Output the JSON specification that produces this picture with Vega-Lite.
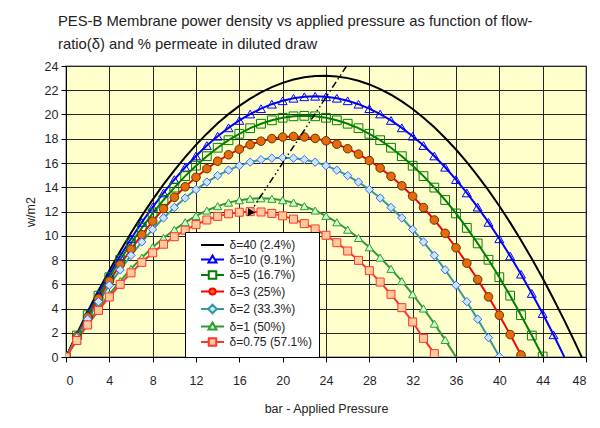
{
  "$schema": "https://vega.github.io/schema/vega-lite/v6.json",
  "autosize": {"type": "none"},
  "width": 520,
  "height": 291,
  "padding": {"left": 66, "top": 66, "right": 14, "bottom": 71},
  "background": "white",
  "title": {
    "text": ["PES-B Membrane power density vs applied pressure as function of flow-", "ratio(δ) and % permeate in diluted draw"],
    "anchor": "start",
    "frame": "group",
    "dx": -8,
    "offset": 8,
    "fontSize": 14.8,
    "lineHeight": 23,
    "fontWeight": "normal",
    "font": "Liberation Sans",
    "color": "#222"
  },
  "datasets": {
    "curves": [
      {"s": "δ=40 (2.4%)", "p": 0, "w": 0}, {"s": "δ=40 (2.4%)", "p": 1, "w": 1.91}, {"s": "δ=40 (2.4%)", "p": 2, "w": 3.74}, {"s": "δ=40 (2.4%)", "p": 3, "w": 5.48}, {"s": "δ=40 (2.4%)", "p": 4, "w": 7.14}, {"s": "δ=40 (2.4%)", "p": 5, "w": 8.72}, {"s": "δ=40 (2.4%)", "p": 6, "w": 10.22}, {"s": "δ=40 (2.4%)", "p": 7, "w": 11.64}, {"s": "δ=40 (2.4%)", "p": 8, "w": 12.98}, {"s": "δ=40 (2.4%)", "p": 9, "w": 14.23}, {"s": "δ=40 (2.4%)", "p": 10, "w": 15.4}, {"s": "δ=40 (2.4%)", "p": 11, "w": 16.49}, {"s": "δ=40 (2.4%)", "p": 12, "w": 17.5}, {"s": "δ=40 (2.4%)", "p": 13, "w": 18.42}, {"s": "δ=40 (2.4%)", "p": 14, "w": 19.27}, {"s": "δ=40 (2.4%)", "p": 15, "w": 20.03}, {"s": "δ=40 (2.4%)", "p": 16, "w": 20.71}, {"s": "δ=40 (2.4%)", "p": 17, "w": 21.31}, {"s": "δ=40 (2.4%)", "p": 18, "w": 21.82}, {"s": "δ=40 (2.4%)", "p": 19, "w": 22.26}, {"s": "δ=40 (2.4%)", "p": 20, "w": 22.61}, {"s": "δ=40 (2.4%)", "p": 21, "w": 22.88}, {"s": "δ=40 (2.4%)", "p": 22, "w": 23.07}, {"s": "δ=40 (2.4%)", "p": 23, "w": 23.18}, {"s": "δ=40 (2.4%)", "p": 24, "w": 23.2}, {"s": "δ=40 (2.4%)", "p": 25, "w": 23.14}, {"s": "δ=40 (2.4%)", "p": 26, "w": 23.0}, {"s": "δ=40 (2.4%)", "p": 27, "w": 22.78}, {"s": "δ=40 (2.4%)", "p": 28, "w": 22.48}, {"s": "δ=40 (2.4%)", "p": 29, "w": 22.09}, {"s": "δ=40 (2.4%)", "p": 30, "w": 21.63}, {"s": "δ=40 (2.4%)", "p": 31, "w": 21.08}, {"s": "δ=40 (2.4%)", "p": 32, "w": 20.45}, {"s": "δ=40 (2.4%)", "p": 33, "w": 19.74}, {"s": "δ=40 (2.4%)", "p": 34, "w": 18.94}, {"s": "δ=40 (2.4%)", "p": 35, "w": 18.06}, {"s": "δ=40 (2.4%)", "p": 36, "w": 17.11}, {"s": "δ=40 (2.4%)", "p": 37, "w": 16.07}, {"s": "δ=40 (2.4%)", "p": 38, "w": 14.94}, {"s": "δ=40 (2.4%)", "p": 39, "w": 13.74}, {"s": "δ=40 (2.4%)", "p": 40, "w": 12.45}, {"s": "δ=40 (2.4%)", "p": 41, "w": 11.08}, {"s": "δ=40 (2.4%)", "p": 42, "w": 9.63}, {"s": "δ=40 (2.4%)", "p": 43, "w": 8.1}, {"s": "δ=40 (2.4%)", "p": 44, "w": 6.49}, {"s": "δ=40 (2.4%)", "p": 45, "w": 4.79}, {"s": "δ=40 (2.4%)", "p": 46, "w": 3.02}, {"s": "δ=40 (2.4%)", "p": 47, "w": 1.16}, {"s": "δ=40 (2.4%)", "p": 47.6, "w": 0},

      {"s": "δ=10 (9.1%)", "p": 0, "w": 0}, {"s": "δ=10 (9.1%)", "p": 1, "w": 1.83}, {"s": "δ=10 (9.1%)", "p": 2, "w": 3.58}, {"s": "δ=10 (9.1%)", "p": 3, "w": 5.24}, {"s": "δ=10 (9.1%)", "p": 4, "w": 6.83}, {"s": "δ=10 (9.1%)", "p": 5, "w": 8.33}, {"s": "δ=10 (9.1%)", "p": 6, "w": 9.75}, {"s": "δ=10 (9.1%)", "p": 7, "w": 11.1}, {"s": "δ=10 (9.1%)", "p": 8, "w": 12.36}, {"s": "δ=10 (9.1%)", "p": 9, "w": 13.53}, {"s": "δ=10 (9.1%)", "p": 10, "w": 14.63}, {"s": "δ=10 (9.1%)", "p": 11, "w": 15.65}, {"s": "δ=10 (9.1%)", "p": 12, "w": 16.58}, {"s": "δ=10 (9.1%)", "p": 13, "w": 17.44}, {"s": "δ=10 (9.1%)", "p": 14, "w": 18.21}, {"s": "δ=10 (9.1%)", "p": 15, "w": 18.9}, {"s": "δ=10 (9.1%)", "p": 16, "w": 19.51}, {"s": "δ=10 (9.1%)", "p": 17, "w": 20.04}, {"s": "δ=10 (9.1%)", "p": 18, "w": 20.48}, {"s": "δ=10 (9.1%)", "p": 19, "w": 20.85}, {"s": "δ=10 (9.1%)", "p": 20, "w": 21.13}, {"s": "δ=10 (9.1%)", "p": 21, "w": 21.34}, {"s": "δ=10 (9.1%)", "p": 22, "w": 21.46}, {"s": "δ=10 (9.1%)", "p": 23, "w": 21.5}, {"s": "δ=10 (9.1%)", "p": 24, "w": 21.46}, {"s": "δ=10 (9.1%)", "p": 25, "w": 21.34}, {"s": "δ=10 (9.1%)", "p": 26, "w": 21.13}, {"s": "δ=10 (9.1%)", "p": 27, "w": 20.85}, {"s": "δ=10 (9.1%)", "p": 28, "w": 20.48}, {"s": "δ=10 (9.1%)", "p": 29, "w": 20.04}, {"s": "δ=10 (9.1%)", "p": 30, "w": 19.51}, {"s": "δ=10 (9.1%)", "p": 31, "w": 18.9}, {"s": "δ=10 (9.1%)", "p": 32, "w": 18.21}, {"s": "δ=10 (9.1%)", "p": 33, "w": 17.44}, {"s": "δ=10 (9.1%)", "p": 34, "w": 16.58}, {"s": "δ=10 (9.1%)", "p": 35, "w": 15.65}, {"s": "δ=10 (9.1%)", "p": 36, "w": 14.63}, {"s": "δ=10 (9.1%)", "p": 37, "w": 13.53}, {"s": "δ=10 (9.1%)", "p": 38, "w": 12.36}, {"s": "δ=10 (9.1%)", "p": 39, "w": 11.1}, {"s": "δ=10 (9.1%)", "p": 40, "w": 9.75}, {"s": "δ=10 (9.1%)", "p": 41, "w": 8.33}, {"s": "δ=10 (9.1%)", "p": 42, "w": 6.83}, {"s": "δ=10 (9.1%)", "p": 43, "w": 5.24}, {"s": "δ=10 (9.1%)", "p": 44, "w": 3.58}, {"s": "δ=10 (9.1%)", "p": 45, "w": 1.83}, {"s": "δ=10 (9.1%)", "p": 46, "w": 0},

      {"s": "δ=5 (16.7%)", "p": 0, "w": 0}, {"s": "δ=5 (16.7%)", "p": 1, "w": 1.77}, {"s": "δ=5 (16.7%)", "p": 2, "w": 3.45}, {"s": "δ=5 (16.7%)", "p": 3, "w": 5.06}, {"s": "δ=5 (16.7%)", "p": 4, "w": 6.58}, {"s": "δ=5 (16.7%)", "p": 5, "w": 8.02}, {"s": "δ=5 (16.7%)", "p": 6, "w": 9.37}, {"s": "δ=5 (16.7%)", "p": 7, "w": 10.65}, {"s": "δ=5 (16.7%)", "p": 8, "w": 11.84}, {"s": "δ=5 (16.7%)", "p": 9, "w": 12.95}, {"s": "δ=5 (16.7%)", "p": 10, "w": 13.97}, {"s": "δ=5 (16.7%)", "p": 11, "w": 14.92}, {"s": "δ=5 (16.7%)", "p": 12, "w": 15.78}, {"s": "δ=5 (16.7%)", "p": 13, "w": 16.56}, {"s": "δ=5 (16.7%)", "p": 14, "w": 17.26}, {"s": "δ=5 (16.7%)", "p": 15, "w": 17.88}, {"s": "δ=5 (16.7%)", "p": 16, "w": 18.41}, {"s": "δ=5 (16.7%)", "p": 17, "w": 18.87}, {"s": "δ=5 (16.7%)", "p": 18, "w": 19.24}, {"s": "δ=5 (16.7%)", "p": 19, "w": 19.52}, {"s": "δ=5 (16.7%)", "p": 20, "w": 19.73}, {"s": "δ=5 (16.7%)", "p": 21, "w": 19.85}, {"s": "δ=5 (16.7%)", "p": 22, "w": 19.89}, {"s": "δ=5 (16.7%)", "p": 23, "w": 19.85}, {"s": "δ=5 (16.7%)", "p": 24, "w": 19.73}, {"s": "δ=5 (16.7%)", "p": 25, "w": 19.52}, {"s": "δ=5 (16.7%)", "p": 26, "w": 19.24}, {"s": "δ=5 (16.7%)", "p": 27, "w": 18.87}, {"s": "δ=5 (16.7%)", "p": 28, "w": 18.41}, {"s": "δ=5 (16.7%)", "p": 29, "w": 17.88}, {"s": "δ=5 (16.7%)", "p": 30, "w": 17.26}, {"s": "δ=5 (16.7%)", "p": 31, "w": 16.56}, {"s": "δ=5 (16.7%)", "p": 32, "w": 15.78}, {"s": "δ=5 (16.7%)", "p": 33, "w": 14.92}, {"s": "δ=5 (16.7%)", "p": 34, "w": 13.97}, {"s": "δ=5 (16.7%)", "p": 35, "w": 12.95}, {"s": "δ=5 (16.7%)", "p": 36, "w": 11.84}, {"s": "δ=5 (16.7%)", "p": 37, "w": 10.65}, {"s": "δ=5 (16.7%)", "p": 38, "w": 9.37}, {"s": "δ=5 (16.7%)", "p": 39, "w": 8.02}, {"s": "δ=5 (16.7%)", "p": 40, "w": 6.58}, {"s": "δ=5 (16.7%)", "p": 41, "w": 5.06}, {"s": "δ=5 (16.7%)", "p": 42, "w": 3.45}, {"s": "δ=5 (16.7%)", "p": 43, "w": 1.77}, {"s": "δ=5 (16.7%)", "p": 44, "w": 0.04},

      {"s": "δ=3 (25%)", "p": 0, "w": 0}, {"s": "δ=3 (25%)", "p": 1, "w": 1.69}, {"s": "δ=3 (25%)", "p": 2, "w": 3.29}, {"s": "δ=3 (25%)", "p": 3, "w": 4.81}, {"s": "δ=3 (25%)", "p": 4, "w": 6.26}, {"s": "δ=3 (25%)", "p": 5, "w": 7.61}, {"s": "δ=3 (25%)", "p": 6, "w": 8.89}, {"s": "δ=3 (25%)", "p": 7, "w": 10.08}, {"s": "δ=3 (25%)", "p": 8, "w": 11.2}, {"s": "δ=3 (25%)", "p": 9, "w": 12.23}, {"s": "δ=3 (25%)", "p": 10, "w": 13.17}, {"s": "δ=3 (25%)", "p": 11, "w": 14.04}, {"s": "δ=3 (25%)", "p": 12, "w": 14.82}, {"s": "δ=3 (25%)", "p": 13, "w": 15.53}, {"s": "δ=3 (25%)", "p": 14, "w": 16.15}, {"s": "δ=3 (25%)", "p": 15, "w": 16.68}, {"s": "δ=3 (25%)", "p": 16, "w": 17.14}, {"s": "δ=3 (25%)", "p": 17, "w": 17.51}, {"s": "δ=3 (25%)", "p": 18, "w": 17.8}, {"s": "δ=3 (25%)", "p": 19, "w": 18.01}, {"s": "δ=3 (25%)", "p": 20, "w": 18.14}, {"s": "δ=3 (25%)", "p": 21, "w": 18.19}, {"s": "δ=3 (25%)", "p": 22, "w": 18.15}, {"s": "δ=3 (25%)", "p": 23, "w": 18.03}, {"s": "δ=3 (25%)", "p": 24, "w": 17.83}, {"s": "δ=3 (25%)", "p": 25, "w": 17.55}, {"s": "δ=3 (25%)", "p": 26, "w": 17.18}, {"s": "δ=3 (25%)", "p": 27, "w": 16.73}, {"s": "δ=3 (25%)", "p": 28, "w": 16.2}, {"s": "δ=3 (25%)", "p": 29, "w": 15.59}, {"s": "δ=3 (25%)", "p": 30, "w": 14.9}, {"s": "δ=3 (25%)", "p": 31, "w": 14.12}, {"s": "δ=3 (25%)", "p": 32, "w": 13.26}, {"s": "δ=3 (25%)", "p": 33, "w": 12.32}, {"s": "δ=3 (25%)", "p": 34, "w": 11.3}, {"s": "δ=3 (25%)", "p": 35, "w": 10.2}, {"s": "δ=3 (25%)", "p": 36, "w": 9.01}, {"s": "δ=3 (25%)", "p": 37, "w": 7.74}, {"s": "δ=3 (25%)", "p": 38, "w": 6.39}, {"s": "δ=3 (25%)", "p": 39, "w": 4.96}, {"s": "δ=3 (25%)", "p": 40, "w": 3.45}, {"s": "δ=3 (25%)", "p": 41, "w": 1.85}, {"s": "δ=3 (25%)", "p": 42, "w": 0.17},

      {"s": "δ=2 (33.3%)", "p": 0, "w": 0}, {"s": "δ=2 (33.3%)", "p": 1, "w": 1.6}, {"s": "δ=2 (33.3%)", "p": 2, "w": 3.12}, {"s": "δ=2 (33.3%)", "p": 3, "w": 4.56}, {"s": "δ=2 (33.3%)", "p": 4, "w": 5.92}, {"s": "δ=2 (33.3%)", "p": 5, "w": 7.19}, {"s": "δ=2 (33.3%)", "p": 6, "w": 8.38}, {"s": "δ=2 (33.3%)", "p": 7, "w": 9.49}, {"s": "δ=2 (33.3%)", "p": 8, "w": 10.52}, {"s": "δ=2 (33.3%)", "p": 9, "w": 11.47}, {"s": "δ=2 (33.3%)", "p": 10, "w": 12.33}, {"s": "δ=2 (33.3%)", "p": 11, "w": 13.11}, {"s": "δ=2 (33.3%)", "p": 12, "w": 13.81}, {"s": "δ=2 (33.3%)", "p": 13, "w": 14.43}, {"s": "δ=2 (33.3%)", "p": 14, "w": 14.96}, {"s": "δ=2 (33.3%)", "p": 15, "w": 15.41}, {"s": "δ=2 (33.3%)", "p": 16, "w": 15.78}, {"s": "δ=2 (33.3%)", "p": 17, "w": 16.07}, {"s": "δ=2 (33.3%)", "p": 18, "w": 16.28}, {"s": "δ=2 (33.3%)", "p": 19, "w": 16.4}, {"s": "δ=2 (33.3%)", "p": 20, "w": 16.44}, {"s": "δ=2 (33.3%)", "p": 21, "w": 16.4}, {"s": "δ=2 (33.3%)", "p": 22, "w": 16.28}, {"s": "δ=2 (33.3%)", "p": 23, "w": 16.07}, {"s": "δ=2 (33.3%)", "p": 24, "w": 15.78}, {"s": "δ=2 (33.3%)", "p": 25, "w": 15.41}, {"s": "δ=2 (33.3%)", "p": 26, "w": 14.96}, {"s": "δ=2 (33.3%)", "p": 27, "w": 14.43}, {"s": "δ=2 (33.3%)", "p": 28, "w": 13.81}, {"s": "δ=2 (33.3%)", "p": 29, "w": 13.11}, {"s": "δ=2 (33.3%)", "p": 30, "w": 12.33}, {"s": "δ=2 (33.3%)", "p": 31, "w": 11.47}, {"s": "δ=2 (33.3%)", "p": 32, "w": 10.52}, {"s": "δ=2 (33.3%)", "p": 33, "w": 9.49}, {"s": "δ=2 (33.3%)", "p": 34, "w": 8.38}, {"s": "δ=2 (33.3%)", "p": 35, "w": 7.19}, {"s": "δ=2 (33.3%)", "p": 36, "w": 5.92}, {"s": "δ=2 (33.3%)", "p": 37, "w": 4.56}, {"s": "δ=2 (33.3%)", "p": 38, "w": 3.12}, {"s": "δ=2 (33.3%)", "p": 39, "w": 1.6}, {"s": "δ=2 (33.3%)", "p": 40, "w": 0.03},

      {"s": "δ=1 (50%)", "p": 0, "w": 0}, {"s": "δ=1 (50%)", "p": 1, "w": 1.41}, {"s": "δ=1 (50%)", "p": 2, "w": 2.75}, {"s": "δ=1 (50%)", "p": 3, "w": 4.0}, {"s": "δ=1 (50%)", "p": 4, "w": 5.17}, {"s": "δ=1 (50%)", "p": 5, "w": 6.26}, {"s": "δ=1 (50%)", "p": 6, "w": 7.27}, {"s": "δ=1 (50%)", "p": 7, "w": 8.2}, {"s": "δ=1 (50%)", "p": 8, "w": 9.05}, {"s": "δ=1 (50%)", "p": 9, "w": 9.82}, {"s": "δ=1 (50%)", "p": 10, "w": 10.5}, {"s": "δ=1 (50%)", "p": 11, "w": 11.11}, {"s": "δ=1 (50%)", "p": 12, "w": 11.64}, {"s": "δ=1 (50%)", "p": 13, "w": 12.08}, {"s": "δ=1 (50%)", "p": 14, "w": 12.44}, {"s": "δ=1 (50%)", "p": 15, "w": 12.73}, {"s": "δ=1 (50%)", "p": 16, "w": 12.93}, {"s": "δ=1 (50%)", "p": 17, "w": 13.05}, {"s": "δ=1 (50%)", "p": 18, "w": 13.09}, {"s": "δ=1 (50%)", "p": 19, "w": 13.05}, {"s": "δ=1 (50%)", "p": 20, "w": 12.93}, {"s": "δ=1 (50%)", "p": 21, "w": 12.73}, {"s": "δ=1 (50%)", "p": 22, "w": 12.44}, {"s": "δ=1 (50%)", "p": 23, "w": 12.08}, {"s": "δ=1 (50%)", "p": 24, "w": 11.64}, {"s": "δ=1 (50%)", "p": 25, "w": 11.11}, {"s": "δ=1 (50%)", "p": 26, "w": 10.5}, {"s": "δ=1 (50%)", "p": 27, "w": 9.82}, {"s": "δ=1 (50%)", "p": 28, "w": 9.05}, {"s": "δ=1 (50%)", "p": 29, "w": 8.2}, {"s": "δ=1 (50%)", "p": 30, "w": 7.27}, {"s": "δ=1 (50%)", "p": 31, "w": 6.26}, {"s": "δ=1 (50%)", "p": 32, "w": 5.17}, {"s": "δ=1 (50%)", "p": 33, "w": 4.0}, {"s": "δ=1 (50%)", "p": 34, "w": 2.75}, {"s": "δ=1 (50%)", "p": 35, "w": 1.41}, {"s": "δ=1 (50%)", "p": 36, "w": 0},

      {"s": "δ=0.75 (57.1%)", "p": 0, "w": 0}, {"s": "δ=0.75 (57.1%)", "p": 1, "w": 1.36}, {"s": "δ=0.75 (57.1%)", "p": 2, "w": 2.64}, {"s": "δ=0.75 (57.1%)", "p": 3, "w": 3.84}, {"s": "δ=0.75 (57.1%)", "p": 4, "w": 4.95}, {"s": "δ=0.75 (57.1%)", "p": 5, "w": 5.99}, {"s": "δ=0.75 (57.1%)", "p": 6, "w": 6.94}, {"s": "δ=0.75 (57.1%)", "p": 7, "w": 7.81}, {"s": "δ=0.75 (57.1%)", "p": 8, "w": 8.59}, {"s": "δ=0.75 (57.1%)", "p": 9, "w": 9.3}, {"s": "δ=0.75 (57.1%)", "p": 10, "w": 9.92}, {"s": "δ=0.75 (57.1%)", "p": 11, "w": 10.46}, {"s": "δ=0.75 (57.1%)", "p": 12, "w": 10.92}, {"s": "δ=0.75 (57.1%)", "p": 13, "w": 11.3}, {"s": "δ=0.75 (57.1%)", "p": 14, "w": 11.6}, {"s": "δ=0.75 (57.1%)", "p": 15, "w": 11.81}, {"s": "δ=0.75 (57.1%)", "p": 16, "w": 11.94}, {"s": "δ=0.75 (57.1%)", "p": 17, "w": 11.99}, {"s": "δ=0.75 (57.1%)", "p": 18, "w": 11.96}, {"s": "δ=0.75 (57.1%)", "p": 19, "w": 11.84}, {"s": "δ=0.75 (57.1%)", "p": 20, "w": 11.64}, {"s": "δ=0.75 (57.1%)", "p": 21, "w": 11.37}, {"s": "δ=0.75 (57.1%)", "p": 22, "w": 11.0}, {"s": "δ=0.75 (57.1%)", "p": 23, "w": 10.56}, {"s": "δ=0.75 (57.1%)", "p": 24, "w": 10.04}, {"s": "δ=0.75 (57.1%)", "p": 25, "w": 9.43}, {"s": "δ=0.75 (57.1%)", "p": 26, "w": 8.74}, {"s": "δ=0.75 (57.1%)", "p": 27, "w": 7.97}, {"s": "δ=0.75 (57.1%)", "p": 28, "w": 7.12}, {"s": "δ=0.75 (57.1%)", "p": 29, "w": 6.18}, {"s": "δ=0.75 (57.1%)", "p": 30, "w": 5.17}, {"s": "δ=0.75 (57.1%)", "p": 31, "w": 4.07}, {"s": "δ=0.75 (57.1%)", "p": 32, "w": 2.89}, {"s": "δ=0.75 (57.1%)", "p": 33, "w": 1.54}, {"s": "δ=0.75 (57.1%)", "p": 34, "w": 0.28}
    ],
    "trend": [{"p": 25.9, "w": 24, "p2": 17.2, "w2": 12.2}],
    "head": [{"p": 16.95, "w": 11.85}]
  },
  "encoding": {
    "x": {"field": "p", "type": "quantitative", "scale": {"domain": [0, 48], "nice": false},
      "axis": {"values": [0, 4, 8, 12, 16, 20, 24, 28, 32, 36, 40, 44, 48], "tickCount": 30, "title": "bar - Applied Pressure", "labelPadding": 12, "titlePadding": 16, "labelOverlap": false}},
    "y": {"field": "w", "type": "quantitative", "scale": {"domain": [0, 24], "nice": false},
      "axis": {"values": [0, 2, 4, 6, 8, 10, 12, 14, 16, 18, 20, 22, 24], "tickCount": 30, "title": "w/m2", "labelPadding": 3, "titlePadding": 7, "labelOverlap": false, "labelBound": false}}
  },
  "layer": [
    {
      "data": {"name": "curves"},
      "mark": {"type": "line", "clip": true},
      "encoding": {
        "color": {
          "field": "s", "type": "nominal",
          "scale": {
            "domain": ["δ=40 (2.4%)", "δ=10 (9.1%)", "δ=5 (16.7%)", "δ=3 (25%)", "δ=2 (33.3%)", "δ=1 (50%)", "δ=0.75 (57.1%)"],
            "range": ["#000000", "#0000ff", "#008000", "#ff0000", "#339999", "#339933", "#ff3333"]
          },
          "legend": {
            "title": null,
            "orient": "none",
            "legendX": 119,
            "legendY": 166,
            "fillColor": "white",
            "strokeColor": "#000",
            "padding": 7,
            "symbolSize": 100,
            "symbolOffset": 14.5,
            "labelOffset": 11,
            "rowPadding": 0.5,
            "labelFont": "Liberation Sans",
            "labelFontSize": 12,
            "labelColor": "#222",
            "encode": {
              "symbols": {
                "update": {
                  "shape": {"signal": "['M-2.3,0H2.3', 'M-2.3,0H-0.46M0.46,0H2.3M0,-0.8L0.8,0.6H-0.8Z', 'M-2.3,0H-0.75M0.75,0H2.3M-0.75,-0.75H0.75V0.75H-0.75Z', 'M-2.3,0H-0.62M0.62,0H2.3M-0.62,0A0.62,0.62,0,1,0,0.62,0A0.62,0.62,0,1,0,-0.62,0Z', 'M-2.3,0H-0.85M0.85,0H2.3M0,-0.85L0.85,0L0,0.85L-0.85,0Z', 'M-2.3,0H-0.46M0.46,0H2.3M0,-0.8L0.8,0.6H-0.8Z', 'M-2.3,0H-0.75M0.75,0H2.3M-0.75,-0.75H0.75V0.75H-0.75Z'][indexof(['δ=40 (2.4%)', 'δ=10 (9.1%)', 'δ=5 (16.7%)', 'δ=3 (25%)', 'δ=2 (33.3%)', 'δ=1 (50%)', 'δ=0.75 (57.1%)'], datum.value)]"},
                  "fill": {"signal": "['transparent', '#ffffff', '#ffffff', '#e46c0a', '#cce5ff', '#ccffcc', '#ffcc99'][indexof(['δ=40 (2.4%)', 'δ=10 (9.1%)', 'δ=5 (16.7%)', 'δ=3 (25%)', 'δ=2 (33.3%)', 'δ=1 (50%)', 'δ=0.75 (57.1%)'], datum.value)]"},
                  "strokeWidth": {"signal": "[2, 2, 1.5, 2, 1, 1, 1][indexof(['δ=40 (2.4%)', 'δ=10 (9.1%)', 'δ=5 (16.7%)', 'δ=3 (25%)', 'δ=2 (33.3%)', 'δ=1 (50%)', 'δ=0.75 (57.1%)'], datum.value)]"},
                  "opacity": {"value": 1}
                }
              }
            }
          }
        },
        "strokeWidth": {
          "field": "s", "type": "nominal",
          "scale": {
            "domain": ["δ=40 (2.4%)", "δ=10 (9.1%)", "δ=5 (16.7%)", "δ=3 (25%)", "δ=2 (33.3%)", "δ=1 (50%)", "δ=0.75 (57.1%)"],
            "range": [2, 2, 1.5, 2, 1, 1, 1]
          },
          "legend": null
        }
      }
    },
    {
      "data": {"name": "curves"},
      "transform": [{"filter": "datum.s != 'δ=40 (2.4%)' && (datum.w > 0 || datum.p == 0)"}],
      "mark": {"type": "point", "filled": true, "strokeWidth": 1, "opacity": 1, "clip": true},
      "encoding": {
        "shape": {
          "field": "s", "type": "nominal",
          "scale": {
            "domain": ["δ=10 (9.1%)", "δ=5 (16.7%)", "δ=3 (25%)", "δ=2 (33.3%)", "δ=1 (50%)", "δ=0.75 (57.1%)"],
            "range": ["triangle-up", "square", "circle", "diamond", "triangle-up", "square"]
          },
          "legend": null
        },
        "fill": {
          "field": "s", "type": "nominal",
          "scale": {
            "domain": ["δ=10 (9.1%)", "δ=5 (16.7%)", "δ=3 (25%)", "δ=2 (33.3%)", "δ=1 (50%)", "δ=0.75 (57.1%)"],
            "range": ["transparent", "transparent", "#e46c0a", "#cce5ff", "#ccffcc", "#ffcc99"]
          },
          "legend": null
        },
        "stroke": {
          "field": "s", "type": "nominal",
          "scale": {
            "domain": ["δ=10 (9.1%)", "δ=5 (16.7%)", "δ=3 (25%)", "δ=2 (33.3%)", "δ=1 (50%)", "δ=0.75 (57.1%)"],
            "range": ["#0000ff", "#008000", "#6b3300", "#3366ff", "#339933", "#ff3333"]
          },
          "legend": null
        },
        "size": {
          "field": "s", "type": "nominal",
          "scale": {
            "domain": ["δ=10 (9.1%)", "δ=5 (16.7%)", "δ=3 (25%)", "δ=2 (33.3%)", "δ=1 (50%)", "δ=0.75 (57.1%)"],
            "range": [80, 64, 40, 60, 72, 64]
          },
          "legend": null
        }
      }
    },
    {
      "data": {"name": "trend"},
      "mark": {"type": "rule", "color": "#000", "strokeWidth": 1.5, "strokeDash": [7, 3, 1.5, 3, 1.5, 3]},
      "encoding": {
        "x2": {"field": "p2"},
        "y2": {"field": "w2"}
      }
    },
    {
      "data": {"name": "head"},
      "mark": {"type": "point", "shape": "triangle-up", "filled": true, "color": "#000", "opacity": 1, "size": 70, "angle": 213},
      "encoding": {}
    }
  ],
  "config": {
    "font": "Liberation Sans",
    "view": {"fill": "#ffffcc", "stroke": "#9a9a9a", "strokeWidth": 1.5},
    "axis": {
      "grid": true,
      "gridColor": "#262626",
      "gridOpacity": 1,
      "gridWidth": 1,
      "domainColor": "#000",
      "domainWidth": 1,
      "tickColor": "#000",
      "tickSize": 5,
      "labelFont": "Liberation Sans",
      "labelFontSize": 12.5,
      "labelColor": "#1f1f2e",
      "titleFont": "Liberation Sans",
      "titleFontSize": 12.5,
      "titleFontWeight": "normal",
      "titleColor": "#222"
    }
  }
}
